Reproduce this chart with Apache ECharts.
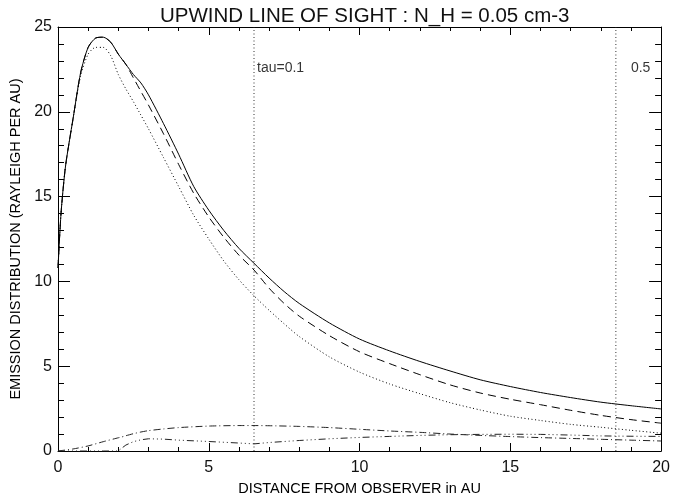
<!DOCTYPE html>
<html>
<head>
<meta charset="utf-8">
<script src="https://cdn.jsdelivr.net/npm/echarts@6/dist/echarts.min.js"></script>
<style>
html, body { margin: 0; padding: 0; background: #fff; }
#chart { width: 673px; height: 501px; }
</style>
</head>
<body>
<div id="chart"></div>
<script>
// distances (AU) for the three upper curves
var xMain = [0, 0.1, 0.25, 0.5, 0.75, 1, 1.25, 1.5, 1.75, 2, 2.25, 2.5, 2.75, 3, 3.5, 4, 4.5, 5, 5.5, 6, 6.5, 7, 7.5, 8, 9, 10, 11, 12, 13, 14, 15, 16, 17, 18, 19, 20];
var solidVals = [10.8, 14.0, 16.8, 19.6, 22.3, 23.8, 24.35, 24.4, 24.1, 23.4, 22.8, 22.2, 21.7, 21.0, 19.3, 17.5, 15.6, 14.2, 13.0, 11.95, 11.07, 10.2, 9.4, 8.7, 7.55, 6.6, 5.9, 5.28, 4.72, 4.2, 3.8, 3.45, 3.15, 2.88, 2.67, 2.48];
var dashedVals = [10.8, 14.0, 16.8, 19.6, 22.3, 23.8, 24.35, 24.4, 24.1, 23.4, 22.8, 22.0, 21.2, 20.4, 18.7, 16.9, 15.2, 13.8, 12.6, 11.55, 10.67, 9.6, 8.7, 7.95, 6.8, 5.85, 5.15, 4.5, 3.9, 3.42, 3.05, 2.73, 2.4, 2.1, 1.85, 1.64];
var dottedVals = [10.8, 14.0, 16.8, 19.6, 22.1, 23.4, 23.8, 23.8, 23.3, 22.2, 21.35, 20.6, 19.8, 19.0, 17.3, 15.6, 13.9, 12.5, 11.2, 10.1, 9.15, 8.3, 7.5, 6.75, 5.55, 4.65, 3.95, 3.38, 2.85, 2.42, 2.05, 1.8, 1.57, 1.4, 1.22, 1.05];

// distances (AU) for the two low curves
var xLow = [0, 0.5, 1, 1.5, 2, 2.1, 2.25, 2.5, 2.75, 3, 3.5, 4, 5, 6, 6.5, 7, 8, 9, 10, 11, 12, 13, 14, 15, 16, 17, 18, 19, 20];
var dashDotVals = [0, 0.12, 0.3, 0.55, 0.78, 0.82, 0.9, 1.02, 1.12, 1.2, 1.3, 1.38, 1.47, 1.5, 1.5, 1.49, 1.45, 1.38, 1.28, 1.18, 1.1, 1.0, 0.92, 0.85, 0.79, 0.74, 0.69, 0.64, 0.59];
var dashDot3Vals = [0, 0, 0, 0, 0, 0.15, 0.35, 0.55, 0.66, 0.72, 0.7, 0.64, 0.56, 0.47, 0.42, 0.5, 0.62, 0.72, 0.8, 0.86, 0.92, 0.96, 0.98, 0.99, 0.98, 0.94, 0.89, 0.87, 0.86];

// optical depth markers
var tauX = [6.5, 18.5];
var tauText = ['tau=0.1', '0.5'];
var tauTextX = [6.6, 19.0];
var tauTextY = 22.6;

var xTicks = [0, 5, 10, 15, 20];
var yTicks = [0, 5, 10, 15, 20, 25];

function pairs(xs, ys) {
    var out = [];
    for (var i = 0; i < xs.length; i++) out.push([xs[i], ys[i]]);
    return out;
}

var chart = echarts.init(document.getElementById('chart'), null, { renderer: 'canvas' });
var font = 'Liberation Sans, Arial, sans-serif';
var ink = '#000';

function xAx(pos, labels) {
    return {
        type: 'value', position: pos,
        min: xTicks[0], max: xTicks[xTicks.length - 1], interval: 5,
        name: labels ? 'DISTANCE FROM OBSERVER in AU' : '',
        nameLocation: 'middle', nameGap: 30,
        nameTextStyle: { fontFamily: font, fontSize: 14.5, color: ink },
        axisLine: { show: true, onZero: false, lineStyle: { color: ink, width: 1 } },
        axisTick: { show: true, inside: true, length: 8, lineStyle: { color: ink } },
        minorTick: { show: true, splitNumber: 5, length: 4, lineStyle: { color: ink } },
        axisLabel: { show: labels, margin: 9, fontFamily: font, fontSize: 16, color: '#111' },
        splitLine: { show: false }
    };
}
function yAx(pos, labels) {
    return {
        type: 'value', position: pos,
        min: yTicks[0], max: yTicks[yTicks.length - 1], interval: 5,
        name: labels ? 'EMISSION DISTRIBUTION (RAYLEIGH PER AU)' : '',
        nameLocation: 'middle', nameGap: 32,
        nameTextStyle: { fontFamily: font, fontSize: 14.5, color: ink },
        axisLine: { show: true, onZero: false, lineStyle: { color: ink, width: 1 } },
        axisTick: { show: true, inside: true, length: 12, lineStyle: { color: ink } },
        minorTick: { show: true, splitNumber: 5, length: 6, lineStyle: { color: ink } },
        axisLabel: { show: labels, margin: 6, fontFamily: font, fontSize: 16, color: '#111' },
        splitLine: { show: false }
    };
}

function curve(name, xs, ys, type, smooth, color) {
    return {
        name: name, type: 'line', xAxisIndex: 0, yAxisIndex: 0,
        data: pairs(xs, ys), showSymbol: false, symbol: 'none',
        smooth: smooth, clip: true,
        lineStyle: { color: color || ink, width: 1, type: type }
    };
}

var series = [
    curve('total', xMain, solidVals, 'solid', 0.25),
    curve('dashed', xMain, dashedVals, [8, 5], 0.25),
    curve('dotted', xMain, dottedVals, [1, 2.5], 0.25),
    curve('dashdot', xLow, dashDotVals, [7, 3, 1, 3], 0.2, '#222'),
    curve('dashdot3', xLow, dashDot3Vals, [7, 3, 1, 3, 1, 3, 1, 3], false, '#222')
];

// vertical tau lines
for (var i = 0; i < tauX.length; i++) {
    series.push({
        type: 'line', xAxisIndex: 0, yAxisIndex: 0, symbol: 'none',
        data: [[tauX[i], yTicks[0]], [tauX[i], yTicks[yTicks.length - 1]]],
        lineStyle: { color: '#333', width: 1, type: [1, 2.5] }
    });
}
// tau labels
series.push({
    type: 'scatter', xAxisIndex: 0, yAxisIndex: 0, symbolSize: 0,
    data: tauTextX.map(function (x, k) { return { value: [x, tauTextY], name: tauText[k] }; }),
    label: {
        show: true, position: 'right', distance: 0,
        formatter: function (p) { return p.name; },
        fontFamily: font, fontSize: 14, color: ink
    }
});

chart.setOption({
    animation: false,
    backgroundColor: '#fff',
    title: {
        text: 'UPWIND LINE OF SIGHT : N_H = 0.05 cm-3',
        left: 155, top: 1,
        textStyle: { fontFamily: font, fontSize: 20.5, fontWeight: 'normal', color: '#111' }
    },
    grid: { left: 58, right: 10, top: 27, bottom: 47, containLabel: false },
    xAxis: [xAx('bottom', true), xAx('top', false)],
    yAxis: [yAx('left', true), yAx('right', false)],
    series: series
});
</script>
</body>
</html>
